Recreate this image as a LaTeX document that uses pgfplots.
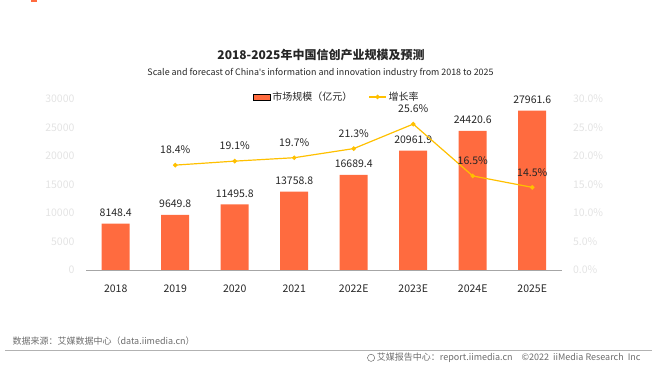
\documentclass[border=0pt]{standalone}
\usepackage{pgfplots}
\pgfplotsset{compat=1.18}
\usepackage{pgfplotstable}
\usepackage{fontspec}
\setmainfont{Noto Sans CJK SC}
\newfontfamily\latinfont{Noto Sans}
\definecolor{barc}{HTML}{FF6B3F}
\definecolor{linec}{HTML}{FFC000}
\definecolor{tickc}{HTML}{E3E3E3}
\definecolor{txt}{HTML}{262626}
\pgfplotstableread{
x val lab
0 8148.4 8148.4
1 9649.8 9649.8
2 11495.8 11495.8
3 13758.8 13758.8
4 16689.4 16689.4
5 20961.9 20961.9
6 24420.6 24420.6
7 27961.6 27961.6
}\bars
\pgfplotstableread{
x val lab
1 18.4 18.4\%
2 19.1 19.1\%
3 19.7 19.7\%
4 21.3 21.3\%
5 25.6 25.6\%
6 16.5 16.5\%
7 14.5 14.5\%
}\growth
\begin{document}
\begin{tikzpicture}
\path[use as bounding box] (0pt,0pt) rectangle (667pt,374pt);
\fill[barc] (31pt,371.5pt) rectangle (37pt,374pt);
\node[font=\bfseries\fontsize{12}{14}\selectfont, text=txt] at (321pt,319pt) {2018-2025年中国信创产业规模及预测};
\node[font=\fontsize{8.9}{10}\selectfont, text=txt] at (320.5pt,301pt) {Scale and forecast of China{\latinfont'}s information and innovation industry from 2018 to 2025};
\begin{axis}[
  at={(86pt,104pt)}, anchor=south west,
  width=476pt, height=171pt, scale only axis,
  xmin=-0.5, xmax=7.5, ymin=0, ymax=30000,
  xtick={0,...,7},
  xticklabels={2018,2019,2020,2021,2022E,2023E,2024E,2025E},
  ytick={0,5000,...,30000},
  scaled y ticks=false,
  /pgf/number format/1000 sep={},
  /pgf/number format/assume math mode=true,
  axis y line*=left, axis x line*=bottom,
  y axis line style={draw=none},
  x axis line style={draw=gray!70, line width=0.8pt},
  tick style={draw=none},
  yticklabel style={font=\fontsize{10.5}{12}\selectfont, text=tickc, xshift=-8pt},
  xticklabel style={font=\fontsize{10.5}{12}\selectfont, text=txt, yshift=-7pt},
  ybar, bar width=28pt,
  nodes near coords={\pgfplotspointmeta},
  point meta=explicit symbolic,
  every node near coord/.append style={font=\fontsize{10.5}{12}\selectfont, text=txt, inner sep=0pt, yshift=7pt, anchor=south},
]
\addplot[fill=barc, draw=none, bar shift=0pt] table[x=x, y=val, meta=lab] {\bars};
\end{axis}
\begin{axis}[
  at={(86pt,104pt)}, anchor=south west,
  width=476pt, height=171pt, scale only axis,
  xmin=-0.5, xmax=7.5, ymin=0, ymax=30,
  axis y line*=right, axis x line=none,
  y axis line style={draw=none},
  tick style={draw=none},
  ytick={0,5,...,30},
  yticklabel={\pgfmathprintnumber[fixed,fixed zerofill,precision=1,assume math mode=true]{\tick}\%},
  yticklabel style={font=\fontsize{10.5}{12}\selectfont, text=tickc, xshift=7.5pt},
  nodes near coords={\pgfplotspointmeta},
  point meta=explicit symbolic,
  every node near coord/.append style={font=\fontsize{10.5}{12}\selectfont, text=txt, inner sep=0pt, yshift=10.5pt, anchor=south},
  legend style={at={(0.527,1.012)}, anchor=center, draw=none, fill=none,
    font=\fontsize{10}{12}\selectfont, text=txt, legend columns=2,
    /tikz/every even column/.append style={column sep=14pt}},
]
\addlegendimage{area legend, fill=barc, draw=none}
\addlegendentry{市场规模（亿元）}
\addplot[color=linec, line width=1.2pt, mark=*, mark size=1.6pt] table[x=x, y=val, meta=lab] {\growth};
\addlegendentry{增长率}
\end{axis}
\node[anchor=west, font=\fontsize{9}{10}\selectfont, text=gray!85!black] at (9pt,33pt) {数据来源：艾媒数据中心（data.iimedia.cn）};
\draw[gray!60, line width=0.8pt] (5pt,24pt) -- (652pt,24pt);
\node[anchor=east, font=\fontsize{9}{10}\selectfont, text=gray!85!black] at (644pt,16pt) {\tikz[baseline=-0.6ex]\draw[gray!85!black,line width=0.5pt] (0,0) circle (3.6pt);\ 艾媒报告中心：report.iimedia.cn\quad ©2022\ \ iiMedia Research\ \ Inc};
\end{tikzpicture}
\end{document}
